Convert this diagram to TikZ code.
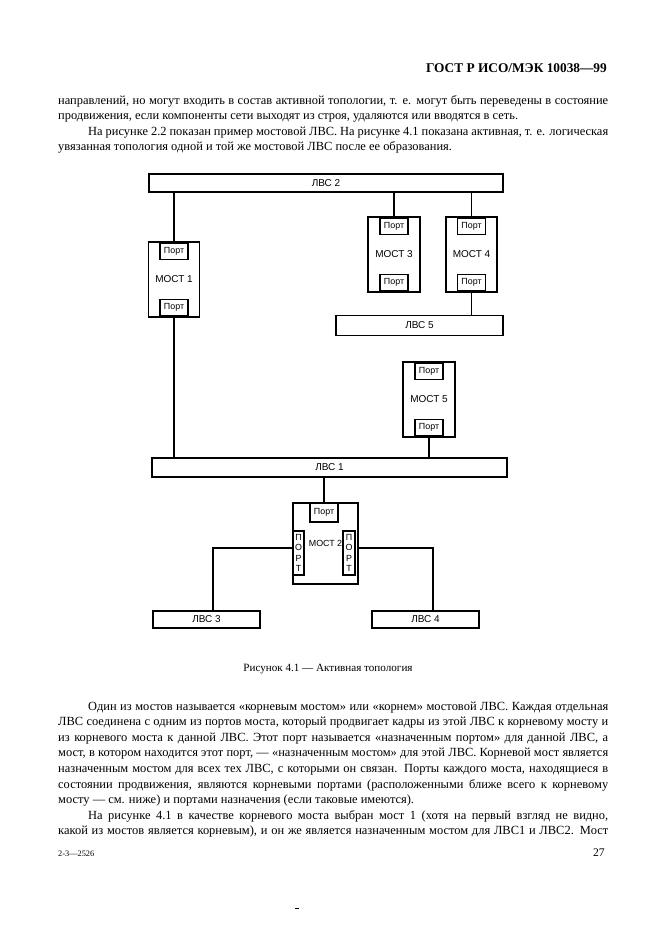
\documentclass[tikz,border=0pt]{standalone}
\usepackage{fontspec}
\setmainfont{Liberation Serif}
\newfontfamily\diagfont{Liberation Sans}
\usetikzlibrary{calc}
\tikzset{
  sz/.style 2 args={minimum width=#1*0.9pt, minimum height=#2*0.9pt},
  lan/.style={draw, line width=1.1pt, inner sep=0pt, font=\diagfont\fontsize{9}{10}\selectfont},
  bridge/.style={draw, line width=1.1pt, inner sep=0pt, font=\diagfont\fontsize{9}{10}\selectfont},
  port/.style={draw, fill=white, line width=1.1pt, inner sep=0pt, minimum width=28*0.9pt, minimum height=16*0.9pt, font=\diagfont\fontsize{8}{9}\selectfont},
  vport/.style={draw, line width=1.1pt, inner sep=0pt, align=center, font=\diagfont\fontsize{8}{9.3}\selectfont},
  wire/.style={line width=1.1pt},
  body/.style={anchor=base west, inner sep=0pt, font=\fontsize{11.2}{14}\selectfont},
}
\newcommand{\jline}[1]{\makebox[495pt][s]{#1}}
\newcommand{\jind}[1]{\makebox[468pt][s]{#1}}
\begin{document}
\begin{tikzpicture}[x=0.9pt,y=-0.9pt]
\useasboundingbox (0,0) rectangle (661,934);
% header
\node[anchor=base east, inner sep=0pt, font=\bfseries\fontsize{12}{14}\selectfont] (hdr) at (607,73) {ГОСТ Р ИСО/МЭК 10038—99};
% paragraph 1
\node[body] (a1) at (58,104.5) {\jline{направлений, но могут входить в состав активной топологии, т. е. могут быть переведены в состояние}};
\node[body] (a2) at (58,120) {продвижения, если компоненты сети выходят из строя, удаляются или вводятся в сеть.};
\node[body] (a3) at (88,135.5) {\jind{На рисунке 2.2 показан пример мостовой ЛВС. На рисунке 4.1 показана активная, т. е. логическая}};
\node[body] (a4) at (58,151) {увязанная топология одной и той же мостовой ЛВС после ее образования.};

% LANs
\node[lan, sz={354}{18}] (lvs2) at (326,183) {ЛВС 2};
\node[lan, sz={167}{20}] (lvs5) at (419.5,325.5) {ЛВС 5};
\node[lan, sz={355}{19}] (lvs1) at (329.5,467.5) {ЛВС 1};
\node[lan, sz={107}{17}] (lvs3) at (206.5,619.5) {ЛВС 3};
\node[lan, sz={107}{17}] (lvs4) at (425.5,619.5) {ЛВС 4};

% bridges
\node[bridge, sz={51}{75}] (m1) at (174,279.5) {МОСТ 1};
\node[port] (m1a) at (174,251.5) {Порт};
\node[port] (m1b) at (174,307.5) {Порт};

\node[bridge, sz={52}{75}] (m3) at (394,254.5) {МОСТ 3};
\node[port] (m3a) at (394,226.5) {Порт};
\node[port] (m3b) at (394,282.5) {Порт};

\node[bridge, sz={51}{75}] (m4) at (471.5,254.5) {МОСТ 4};
\node[port] (m4a) at (471.5,226.5) {Порт};
\node[port] (m4b) at (471.5,282.5) {Порт};

\node[bridge, sz={52}{75}] (m5) at (429,399.5) {МОСТ 5};
\node[port] (m5a) at (429,371.5) {Порт};
\node[port] (m5b) at (429,427.5) {Порт};

\node[bridge, sz={65}{81}, font=\diagfont\fontsize{8}{10}\selectfont] (m2) at (325.5,543.5) {МОСТ 2};
\node[port, sz={28}{19}] (m2t) at (324,512.5) {Порт};
\node[vport, sz={11}{44}] (m2l) at (298.5,553) {П\\О\\Р\\Т};
\node[vport, sz={12}{44}] (m2r) at (349,553) {П\\О\\Р\\Т};

% connectors
\draw[wire] (m1.north) -- (m1.north |- lvs2.south);
\draw[wire] (m1.south) -- (m1.south |- lvs1.north);
\draw[wire] (m3.north) -- (m3.north |- lvs2.south);
\draw[wire] (m4.north) -- (m4.north |- lvs2.south);
\draw[wire] (m4b.south) -- (m4b.south |- lvs5.north);
\draw[wire] (m5b.south) -- (m5b.south |- lvs1.north);
\draw[wire] (m2t.north) -- (m2t.north |- lvs1.south);
\coordinate (j3) at (213,548);
\coordinate (j4) at (433,548);
\draw[wire] (m2l.west |- j3) -- (j3) -- (j3 |- lvs3.north);
\draw[wire] (m2.east |- j4) -- (j4) -- (j4 |- lvs4.north);

% caption
\node[anchor=base, inner sep=0pt, font=\fontsize{10}{12}\selectfont] (cap) at (328,671) {Рисунок 4.1 — Активная топология};

% paragraph 2
\node[body] (b1) at (88,710) {\jind{Один из мостов называется «корневым мостом» или «корнем» мостовой ЛВС. Каждая отдельная}};
\node[body] (b2) at (58,725.6) {\jline{ЛВС соединена с одним из портов моста, который продвигает кадры из этой ЛВС к корневому мосту и}};
\node[body] (b3) at (58,741.2) {\jline{из корневого моста к данной ЛВС. Этот порт называется «назначенным портом» для данной ЛВС, а}};
\node[body] (b4) at (58,756.8) {\jline{мост, в котором находится этот порт, — «назначенным мостом» для этой ЛВС. Корневой мост является}};
\node[body] (b5) at (58,772.4) {\jline{назначенным мостом для всех тех ЛВС, с которыми он связан. Порты каждого моста, находящиеся в}};
\node[body] (b6) at (58,788) {\jline{состоянии продвижения, являются корневыми портами (расположенными ближе всего к корневому}};
\node[body] (b7) at (58,803.6) {мосту — см. ниже) и портами назначения (если таковые имеются).};
\node[body] (b8) at (88,819.2) {\jind{На рисунке 4.1 в качестве корневого моста выбран мост 1 (хотя на первый взгляд не видно,}};
\node[body] (b9) at (58,834.8) {\jline{какой из мостов является корневым), и он же является назначенным мостом для ЛВС1 и ЛВС2. Мост}};

% footer
\node[anchor=base west, inner sep=0pt, font=\fontsize{7.5}{9}\selectfont] (f1) at (58,856) {2-3—2526};
\node[anchor=base east, inner sep=0pt, font=\fontsize{10.5}{12}\selectfont] (f2) at (605,856) {27};
\fill (295,907.5) rectangle (299,909);
\end{tikzpicture}
\end{document}
